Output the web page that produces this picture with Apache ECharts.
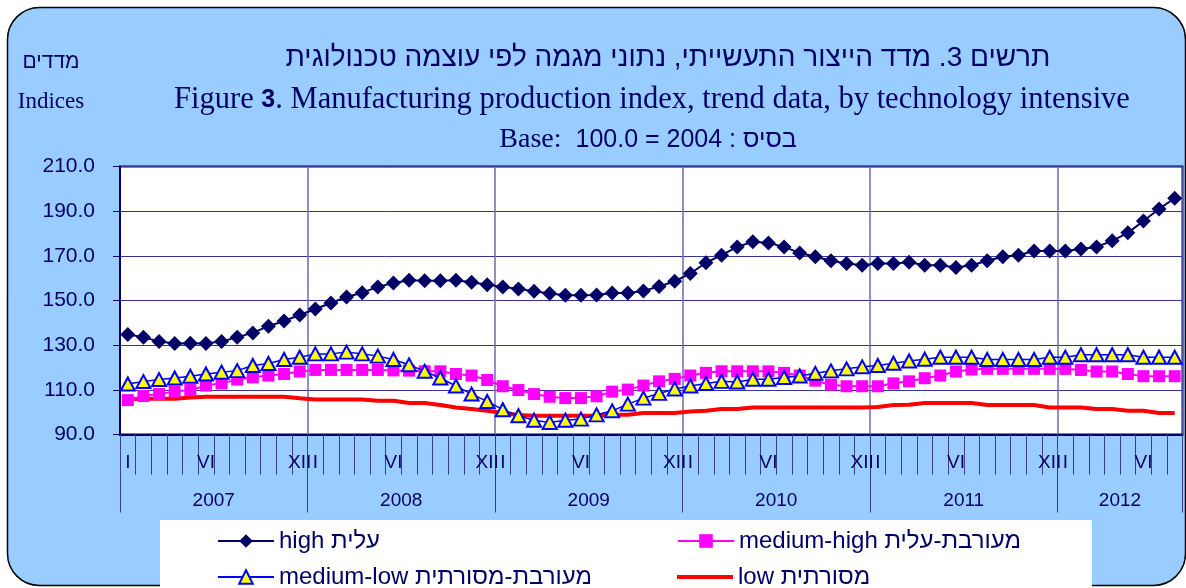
<!DOCTYPE html>
<html><head><meta charset="utf-8">
<script src="https://cdn.jsdelivr.net/npm/echarts@6/dist/echarts.min.js"></script>
<style>html,body{margin:0;padding:0;background:#fff}#c{width:1186px;height:588px}</style>
</head><body><div id="c"></div>
<script>
const years = [2007, 2008, 2009, 2010, 2011, 2012];
const monthsPerYear = [12, 12, 12, 12, 12, 8];
const monthTickLabels = ['I', '', '', '', '', 'VI', '', '', '', '', '', 'XII'];
const yMin = 90, yMax = 210, yStep = 20;
const seriesNames = ['high עלית', 'medium-high מעורבת-עלית', 'medium-low מעורבת-מסורתית', 'low מסורתית'];

const high = [134.8, 133.6, 131.6, 130.8, 130.9, 130.8, 131.6, 133.6, 135.5, 138.5, 140.8, 143.5,
  146.2, 148.9, 151.6, 153.5, 156.1, 157.8, 159.1, 158.8, 158.8, 159.1, 158.2, 157.1,
  156.1, 155.2, 154.1, 153.1, 152.3, 152.3, 152.5, 153.4, 153.4, 154.3, 156.3, 158.6,
  162.1, 166.9, 170.3, 174.0, 176.3, 175.8, 174.0, 171.3, 169.6, 167.8, 166.6, 165.8,
  166.6, 166.6, 167.1, 165.8, 165.8, 164.8, 165.8, 167.8, 169.6, 170.3, 172.2, 172.2,
  172.2, 173.1, 174.0, 176.7, 180.3, 185.6, 191.0, 195.8];
const mediumHigh = [105.4, 107.2, 108.1, 109.2, 109.9, 111.9, 112.9, 114.6, 115.6, 116.4, 117.1, 118.2,
  118.9, 118.9, 118.9, 118.9, 118.9, 118.7, 118.6, 118.3, 118.3, 117.1, 116.4, 114.4,
  111.6, 109.9, 108.1, 106.9, 106.3, 106.3, 107.1, 109.2, 110.1, 111.9, 113.8, 114.9,
  116.4, 117.6, 118.3, 118.3, 118.3, 118.3, 117.6, 116.4, 114.1, 112.3, 111.6, 111.6,
  111.6, 112.9, 113.8, 115.2, 116.4, 118.2, 119.1, 119.4, 119.4, 119.4, 119.4, 119.4,
  119.4, 118.9, 118.2, 118.2, 117.1, 116.1, 116.1, 116.1];
const mediumLow = [112.6, 113.7, 114.6, 115.3, 116.1, 117.1, 117.9, 118.6, 120.9, 121.8, 123.6, 124.6,
  126.1, 126.1, 126.9, 126.1, 125.1, 123.6, 121.2, 118.3, 115.3, 111.7, 108.1, 104.8,
  101.1, 98.4, 96.4, 95.4, 96.4, 96.9, 98.8, 100.6, 103.6, 106.3, 108.4, 110.4,
  111.7, 112.8, 113.8, 113.5, 114.7, 114.7, 115.5, 116.2, 117.4, 118.5, 119.4, 120.3,
  120.9, 121.9, 122.9, 123.7, 124.6, 124.6, 124.6, 123.6, 123.6, 123.6, 123.6, 124.6,
  124.6, 125.7, 125.7, 125.7, 125.7, 124.6, 124.6, 124.6];
const low = [105.9, 106.0, 106.0, 106.0, 106.6, 106.9, 106.9, 106.9, 106.9, 106.9, 106.9, 106.2,
  105.7, 105.7, 105.7, 105.7, 105.1, 105.1, 104.1, 104.1, 103.2, 102.1, 101.4, 100.6,
  99.6, 98.7, 98.4, 98.4, 98.4, 98.4, 98.4, 98.8, 98.8, 99.6, 99.6, 99.6,
  100.3, 100.6, 101.4, 101.4, 102.1, 102.1, 102.1, 102.1, 102.1, 102.1, 102.1, 102.1,
  102.3, 103.2, 103.3, 104.1, 104.1, 104.1, 104.1, 103.2, 103.2, 103.2, 103.2, 102.1,
  102.1, 102.1, 101.4, 101.4, 100.6, 100.6, 99.6, 99.6];

// derived axis helpers
const categories = [];
const yearStarts = [];
years.forEach((y, i) => {
  yearStarts.push(categories.length);
  for (let m = 1; m <= monthsPerYear[i]; m++) categories.push(y + '-' + m);
});
const yearBounds = yearStarts.concat([categories.length]);
const yearMids = years.map((y, i) => yearStarts[i] + monthsPerYear[i] / 2);

const NAVY = '#000066';
const SANS = '"Liberation Sans", Arial, "DejaVu Sans", sans-serif';
const SERIF = '"Liberation Serif", "Times New Roman", serif';

const chart = echarts.init(document.getElementById('c'), null, {renderer: 'canvas'});
const legendPos = [[212, 524], [672, 524], [212, 560], [672, 560]];
chart.setOption({
  animation: false,
  graphic: [
    {type: 'rect', z: -10, shape: {x: 7.5, y: 7.5, width: 1178, height: 578, r: 32},
      style: {fill: '#99CCFF', stroke: '#000', lineWidth: 1.5}},
    {type: 'rect', z: -5, shape: {x: 160, y: 520, width: 932, height: 68},
      style: {fill: '#FFFFFF'}},
    {type: 'text', x: 668, y: 58, style: {text: 'תרשים 3. מדד הייצור התעשייתי, נתוני מגמה לפי עוצמה טכנולוגית',
      font: '28px ' + SANS, fill: NAVY, textAlign: 'center', textVerticalAlign: 'middle'}},
    {type: 'text', x: 652, y: 100, style: {
      text: '{s|Figure }{n|3}{s|. Manufacturing production index, trend data, by technology intensive}',
      rich: {s: {font: '30.5px ' + SERIF, fill: NAVY}, n: {font: 'bold 25px ' + SANS, fill: NAVY}},
      textAlign: 'center', textVerticalAlign: 'middle'}},
    {type: 'text', x: 648, y: 140, style: {
      text: '{s|Base:  }{n|100.0 = 2004 : בסיס}',
      rich: {s: {font: '28px ' + SERIF, fill: NAVY}, n: {font: '25px ' + SANS, fill: NAVY}},
      textAlign: 'center', textVerticalAlign: 'middle'}},
    {type: 'text', x: 51, y: 62, style: {text: 'מדדים', font: '21px ' + SANS, fill: NAVY,
      textAlign: 'center', textVerticalAlign: 'middle'}},
    {type: 'text', x: 51, y: 102, style: {text: 'Indices', font: '23px ' + SERIF, fill: NAVY,
      textAlign: 'center', textVerticalAlign: 'middle'}}
  ],
  legend: seriesNames.map((n, i) => ({
    data: i === 3 ? [{name: n, icon: 'rect'}] : [n],
    left: legendPos[i][0], top: legendPos[i][1], itemWidth: 56, itemHeight: i === 3 ? 4 : 17,
    itemGap: 0, selectedMode: false,
    textStyle: {color: NAVY, fontSize: 24, fontFamily: SANS}
  })),
  grid: {left: 120, top: 166.5, width: 1062.5, height: 268, show: true,
    backgroundColor: '#FFFFFF', borderColor: NAVY, borderWidth: 2, containLabel: false},
  xAxis: [
    {type: 'category', data: categories, boundaryGap: true, position: 'bottom',
      axisLine: {show: true, lineStyle: {color: NAVY, width: 2}},
      axisTick: {show: true, interval: 0, length: 40, lineStyle: {color: '#3b3b99', width: 1}},
      axisLabel: {interval: 0, margin: 19, color: NAVY, fontSize: 19, fontFamily: SANS,
        formatter: (v, i) => monthTickLabels[i % 12]},
      splitLine: {show: true, interval: (i) => yearStarts.indexOf(i) > 0,
        lineStyle: {color: '#6b6bae', width: 1.5}}},
    {type: 'value', min: 0, max: categories.length, position: 'bottom',
      axisLine: {show: false}, splitLine: {show: false},
      axisTick: {show: true, customValues: yearBounds, length: 78, lineStyle: {color: '#3b3b99', width: 1}},
      axisLabel: {show: true, customValues: yearMids, margin: 57, color: NAVY, fontSize: 19, fontFamily: SANS,
        formatter: (v) => String(years[yearMids.indexOf(v)])}}
  ],
  yAxis: {type: 'value', min: yMin, max: yMax, interval: yStep,
    axisLine: {show: true, lineStyle: {color: NAVY, width: 2}},
    axisTick: {show: true, length: 7, lineStyle: {color: NAVY, width: 1}},
    axisLabel: {margin: 25, color: NAVY, fontSize: 21, fontFamily: SANS, formatter: (v) => v.toFixed(1)},
    splitLine: {show: true, lineStyle: {color: '#333399', width: 1}}},
  series: [
    {name: seriesNames[0], type: 'line', data: high, z: 5, symbol: 'diamond', symbolSize: [15, 15],
      itemStyle: {color: NAVY}, lineStyle: {color: NAVY, width: 2}},
    {name: seriesNames[1], type: 'line', data: mediumHigh, z: 3, symbol: 'rect', symbolSize: 12,
      itemStyle: {color: '#FF00FF'}, lineStyle: {color: '#FF00FF', width: 2}},
    {name: seriesNames[2], type: 'line', data: mediumLow, z: 4, symbol: 'triangle', symbolSize: [14, 13],
      itemStyle: {color: '#FFFF00', borderColor: '#0000FF', borderWidth: 2},
      lineStyle: {color: '#0000FF', width: 1.5}},
    {name: seriesNames[3], type: 'line', data: low, z: 2, symbol: 'none', showSymbol: false,
      itemStyle: {color: '#FF0000'}, lineStyle: {color: '#FF0000', width: 4}}
  ]
});
</script></body></html>
